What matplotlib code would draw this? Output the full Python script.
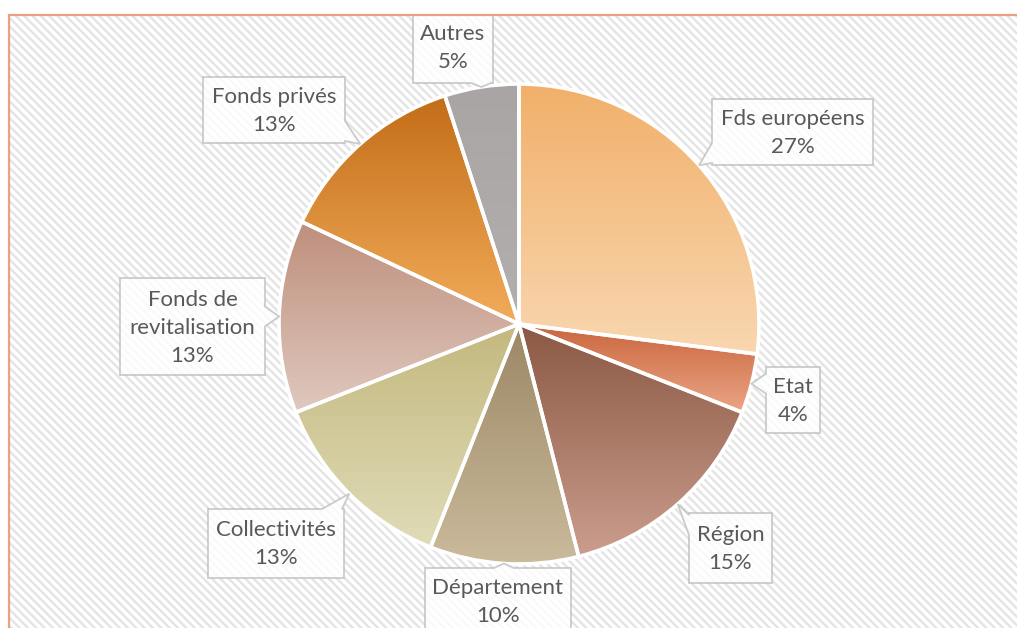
import matplotlib
matplotlib.use('Agg')
import matplotlib.pyplot as plt
import numpy as np
from matplotlib.patches import Rectangle, Polygon
from matplotlib.colors import to_rgb

# data
labels = ['Fds européens', 'Etat', 'Région', 'Département', 'Collectivités',
          'Fonds de\nrevitalisation', 'Fonds privés', 'Autres']
values = [27, 4, 15, 10, 13, 13, 13, 5]

# gradient colours, top -> bottom of each slice
top_colors = ['#F1B06A', '#C9653D', '#8A5843', '#9C8765', '#C3B87E',
              '#BE8F7C', '#C36D18', '#A9A5A5']
bottom_colors = ['#F9D7B0', '#EBA585', '#CB9D8D', '#CABB9C', '#E0DCB8',
                 '#E0C8BE', '#F2AC5A', '#B3AFAF']

# callout boxes in pixel coords (left, top, right, bottom)
boxes = [(712, 99, 873, 165), (766, 367, 820, 433), (689, 513, 772, 583),
         (425, 568, 571, 645), (208, 509, 344, 578), (120, 278, 265, 375),
         (203, 77, 345, 143), (413, 10, 493, 83)]

W, H = 1017, 628
plt.rcParams['hatch.linewidth'] = 1.7
plt.rcParams['hatch.color'] = '#E4E4E4'

fig = plt.figure(figsize=(W / 100, H / 100), dpi=100)
ax = fig.add_axes([0, 0, 1, 1])

def py(y):
    return H - y

# chart area with diagonal hatch
bg = Rectangle((9, py(H + 20)), W + 20, H + 20 - 16 + 1, facecolor='white',
               edgecolor='#E4E4E4', hatch='\\\\\\\\', lw=0, zorder=0)
ax.add_patch(bg)
border = Rectangle((9, py(H + 20)), W + 20, H + 20 - 16 + 1, facecolor='none',
                   edgecolor='#EBA085', lw=1.6, zorder=10)
ax.add_patch(border)

cx, cy, r = 519, py(324), 240
wedges, _ = ax.pie(values, startangle=90, counterclock=False, center=(cx, cy),
                   radius=r, frame=True,
                   wedgeprops=dict(edgecolor='white', linewidth=2.6))

for w, c0, c1 in zip(wedges, top_colors, bottom_colors):
    w.set_facecolor('none')
    w.set_zorder(3)
    verts = w.get_path().vertices
    x0, x1 = verts[:, 0].min(), verts[:, 0].max()
    y0, y1 = verts[:, 1].min(), verts[:, 1].max()
    t = np.linspace(0, 1, 256)[:, None]
    grad = (1 - t) * np.array(to_rgb(c0)) + t * np.array(to_rgb(c1))
    im = ax.imshow(grad[:, None, :], extent=(x0, x1, y0, y1), origin='upper',
                   aspect='auto', zorder=2, interpolation='bilinear')
    im.set_clip_path(w)

# callouts
total = sum(values)
for w, lab, v, b in zip(wedges, labels, values, boxes):
    mid = np.radians((w.theta1 + w.theta2) / 2)
    tx, ty = cx + r * np.cos(mid), cy + r * np.sin(mid)
    L, T, R, B = b[0], py(b[1]), b[2], py(b[3])
    # which side the tip lies on
    dx = L - tx if tx < L else (tx - R if tx > R else 0)
    dy = B - ty if ty < B else (ty - T if ty > T else 0)
    pw = 10
    if dx >= dy:
        yb = np.clip(ty, B + pw + 2, T - pw - 2)
        if tx < L:
            pts = [(L, T), (R, T), (R, B), (L, B), (L, yb - pw), (tx, ty), (L, yb + pw)]
        else:
            pts = [(L, T), (R, T), (R, yb + pw), (tx, ty), (R, yb - pw), (R, B), (L, B)]
    else:
        xb = np.clip(tx, L + pw + 2, R - pw - 2)
        if ty > T:
            pts = [(L, T), (xb - pw, T), (tx, ty), (xb + pw, T), (R, T), (R, B), (L, B)]
        else:
            pts = [(L, T), (R, T), (R, B), (xb + pw, B), (tx, ty), (xb - pw, B), (L, B)]
    poly = Polygon(pts, closed=True, facecolor='white', alpha=0.8,
                   edgecolor='#BFBFBF', lw=1.3, zorder=5)
    ax.add_patch(poly)
    poly.set_clip_path(bg)
    ycen = (T + B) / 2 if b[3] < H else (T + py(b[1] + 66)) / 2
    ax.text((L + R) / 2, ycen - 1, '%s\n%d%%' % (lab, round(v / total * 100)),
            ha='center', va='center', fontsize=16, color='#595959',
            family='Lato', linespacing=1.5, zorder=6)

ax.set_xlim(0, W)
ax.set_ylim(0, H)
ax.set_aspect('auto')
ax.set_axis_off()
fig.savefig('out.png', dpi=100)
